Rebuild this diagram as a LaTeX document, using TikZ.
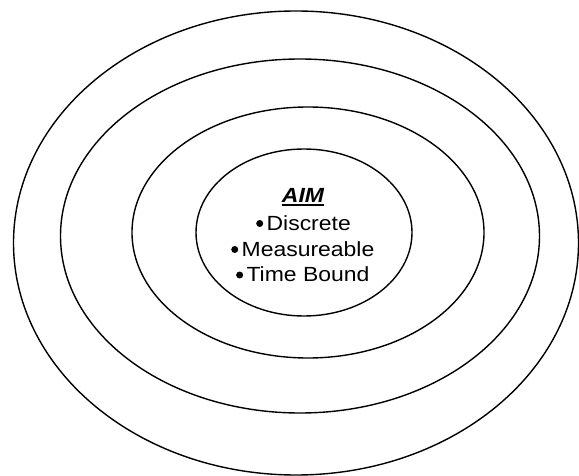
\documentclass[tikz,border=0pt]{standalone}
\usepackage{fontspec}
\usepackage{tikz}
\usetikzlibrary{positioning,shapes.geometric}
\newfontfamily\aimfont{Liberation Sans}[FakeStretch=1.12]
\tikzset{
  ring/.style={
    ellipse, draw=black, line width=1.4pt, inner sep=0pt, outer sep=0pt,
  },
  itemtext/.style={
    inner sep=0pt, anchor=base, font=\aimfont\fontsize{20.5}{24}\selectfont,
  },
  titletext/.style={
    itemtext, font=\aimfont\fontsize{20.5}{24}\selectfont\bfseries\itshape,
  },
  dotmark/.style={
    circle, fill=black, inner sep=0pt, minimum size=7pt,
  },
}

\begin{document}
\begin{tikzpicture}[x=1pt, y=-1pt]
\useasboundingbox (0,0) rectangle (579,476);

% rings, outside in
\node[ring, minimum width=565pt, minimum height=464pt] (outer)  at (296,243)   {};
\node[ring, minimum width=479pt, minimum height=354pt] (second) at (300,236)   {};
\node[ring, minimum width=352pt, minimum height=251pt] (third)  at (308,232.5) {};
\node[ring, minimum width=216pt, minimum height=167pt] (core)   at (304,232.5) {};

% text in the core
\node[titletext] (title) at (303,202.5) {AIM};
\draw[line width=1.8pt] ([yshift=-2.8pt]title.base west) -- ([yshift=-2.8pt]title.base east);

\node[itemtext] (discrete) at (308.7,230)   {Discrete};
\node[itemtext] (measure)  at (308,256)     {Measureable};
\node[itemtext] (timebd)   at (308,281.5)   {Time Bound};

\node[dotmark, left=3pt of discrete.base west, yshift=6.5pt] (dotA) {};
\node[dotmark, left=3pt of measure.base west,  yshift=6.5pt] (dotB) {};
\node[dotmark, left=3pt of timebd.base west,   yshift=6.5pt] (dotC) {};

\end{tikzpicture}
\end{document}
